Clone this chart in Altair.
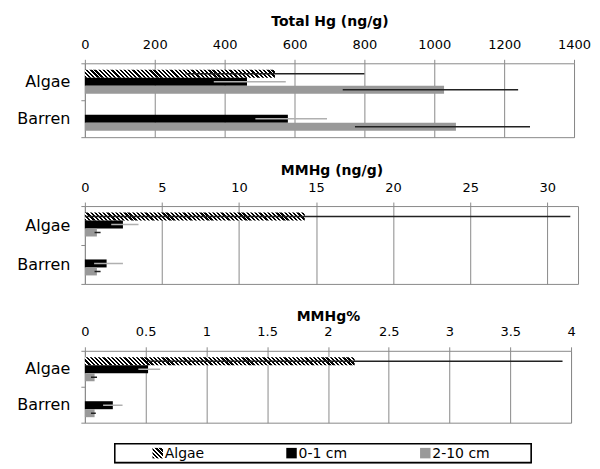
import altair as alt
import pandas as pd

# ---------------- data ----------------
groups = ["Algae", "Barren"]
series = ["Algae", "0-1 cm", "2-10 cm"]

bar_group = ["Algae", "Algae", "Algae", "Barren", "Barren"]
bar_series = ["Algae", "0-1 cm", "2-10 cm", "0-1 cm", "2-10 cm"]

thg_mean = [544, 464, 1028, 581, 1062]
thg_low = [288, 369, 738, 488, 773]
thg_high = [800, 575, 1240, 693, 1274]

mmhg_mean = [14.27, 2.47, 0.78, 1.41, 0.78]
mmhg_low = [-2.96, 1.71, 0.63, 0.60, 0.63]
mmhg_high = [31.5, 3.48, 1.02, 2.47, 1.02]

pct_mean = [2.22, 0.52, 0.08, 0.23, 0.08]
pct_low = [0.51, 0.44, 0.05, 0.15, 0.05]
pct_high = [3.93, 0.62, 0.10, 0.31, 0.09]

thg_ticks = [0, 200, 400, 600, 800, 1000, 1200, 1400]
mmhg_ticks = [0, 5, 10, 15, 20, 25, 30]
pct_ticks = [0, 0.5, 1, 1.5, 2, 2.5, 3, 3.5, 4]

FONT = "DejaVu Sans"
GRID = "#8a8a8a"
BAR_H = 8
PERIOD = 4.2


def hatch(w, h, period=PERIOD):
    """Diagonal black/white stripes as a bbox-relative linear gradient."""
    n = max(1, round((w + h) / period))
    k = (w + h) / (w * w + h * h)
    stops = []
    for i in range(n):
        a, b, c = i / n, (i + 0.55) / n, (i + 1) / n
        stops += [
            {"offset": a, "color": "#000000"},
            {"offset": b, "color": "#000000"},
            {"offset": b, "color": "#ffffff"},
            {"offset": c, "color": "#ffffff"},
        ]
    return {"gradient": "linear", "x1": 0, "y1": 1, "x2": k * w, "y2": 1 - k * h, "stops": stops}


def panel(title, mean, low, high, dmax, ticks, width, height, title_pad):
    df = pd.DataFrame({"group": bar_group, "series": bar_series,
                       "mean": mean, "low": low, "high": high})
    xaxis = alt.Axis(orient="top", values=ticks, labelExpr="datum.value + ''", title=title,
                     titlePadding=title_pad, labelOverlap=False, labelFlush=False)
    xscale = alt.Scale(domain=[0, dmax], nice=False, zero=True)
    y = alt.Y("group:N", scale=alt.Scale(domain=groups, paddingInner=0, paddingOuter=0),
              axis=alt.Axis(title=None, tickBand="extent", labelPadding=11))
    yoff = alt.YOffset("series:N", scale=alt.Scale(domain=series, paddingInner=0, paddingOuter=0.8125))
    base = alt.Chart(df)
    w_hatch = mean[0] / dmax * width
    hatched = base.transform_filter(alt.datum.series == "Algae").mark_bar(
        fill=hatch(w_hatch, BAR_H)).encode(
        x=alt.X("mean:Q", scale=xscale, axis=xaxis), y=y, yOffset=yoff)
    solid = base.transform_filter(alt.datum.series != "Algae").mark_bar().encode(
        x=alt.X("mean:Q", scale=xscale, axis=xaxis), y=y, yOffset=yoff,
        fill=alt.Fill("series:N", scale=alt.Scale(domain=["0-1 cm", "2-10 cm"],
                                                  range=["#000000", "#999999"]), legend=None))
    err = base.mark_rule(strokeWidth=1.5, clip=True).encode(
        x=alt.X("low:Q", scale=xscale, axis=xaxis), x2="high:Q", y=y, yOffset=yoff,
        stroke=alt.Stroke("series:N", scale=alt.Scale(domain=series,
                                                      range=["#222222", "#b0b0b0", "#222222"]), legend=None))
    return alt.layer(hatched, solid, err).properties(width=width, height=height)


p1 = panel("Total Hg (ng/g)", thg_mean, thg_low, thg_high, 1400, thg_ticks, 490, 74, 10)
p2 = panel("MMHg (ng/g)", mmhg_mean, mmhg_low, mmhg_high, 32, mmhg_ticks, 494, 78, 4)
p3 = panel("MMHg%", pct_mean, pct_low, pct_high, 4, pct_ticks, 487, 72, 2)

# ---------------- legend ----------------
leg_df = pd.DataFrame({"series": series})
idx_expr = "indexof(['Algae', '0-1 cm', '2-10 cm'], datum.series)"
leg_x = alt.X("idx:Q", scale=alt.Scale(domain=[0, 2], range=[73, 341]), axis=None)
box = alt.Chart(leg_df).mark_rect(fill="white", stroke="black", strokeWidth=1.5).encode(
    x=alt.value(30), x2=alt.value(447), y=alt.value(0), y2=alt.value(19))
sym_h = alt.Chart(leg_df).transform_calculate(idx=idx_expr).transform_filter(
    alt.datum.series == "Algae").mark_square(
    size=110, opacity=1, fill=hatch(10.5, 10.5, 4.5)).encode(x=leg_x, y=alt.value(9.5))
sym_s = alt.Chart(leg_df).transform_calculate(idx=idx_expr).transform_filter(
    alt.datum.series != "Algae").mark_square(size=110, opacity=1).encode(
    x=leg_x, y=alt.value(9.5),
    fill=alt.Fill("series:N", scale=alt.Scale(domain=["0-1 cm", "2-10 cm"],
                                              range=["#000000", "#999999"]), legend=None))
txt = alt.Chart(leg_df).transform_calculate(idx=idx_expr).mark_text(
    align="left", baseline="middle", dx=7, fontSize=14, font=FONT, color="black").encode(
    x=leg_x, y=alt.value(10), text="series:N")
legend = alt.layer(box, sym_h, sym_s, txt).properties(
    width=490, height=19, view=alt.ViewBackground(stroke="transparent"))

panels = alt.vconcat(p1, p2, p3, spacing=24)
chart = alt.vconcat(panels, legend, spacing=18).properties(
    padding={"left": 8, "top": 5, "right": 0, "bottom": 0}
).configure_view(stroke=GRID, strokeWidth=1).configure_axis(
    labelFont=FONT, titleFont=FONT, domain=False, labelColor="black", titleColor="black",
    gridColor=GRID, gridWidth=1, tickColor=GRID, tickSize=4
).configure_axisX(
    labelFontSize=13, titleFontSize=14, titleFontWeight="bold", labelPadding=8, grid=True
).configure_axisY(
    labelFontSize=16, grid=False
)

chart.save("out.html", embed_options={"renderer": "svg", "actions": False})
